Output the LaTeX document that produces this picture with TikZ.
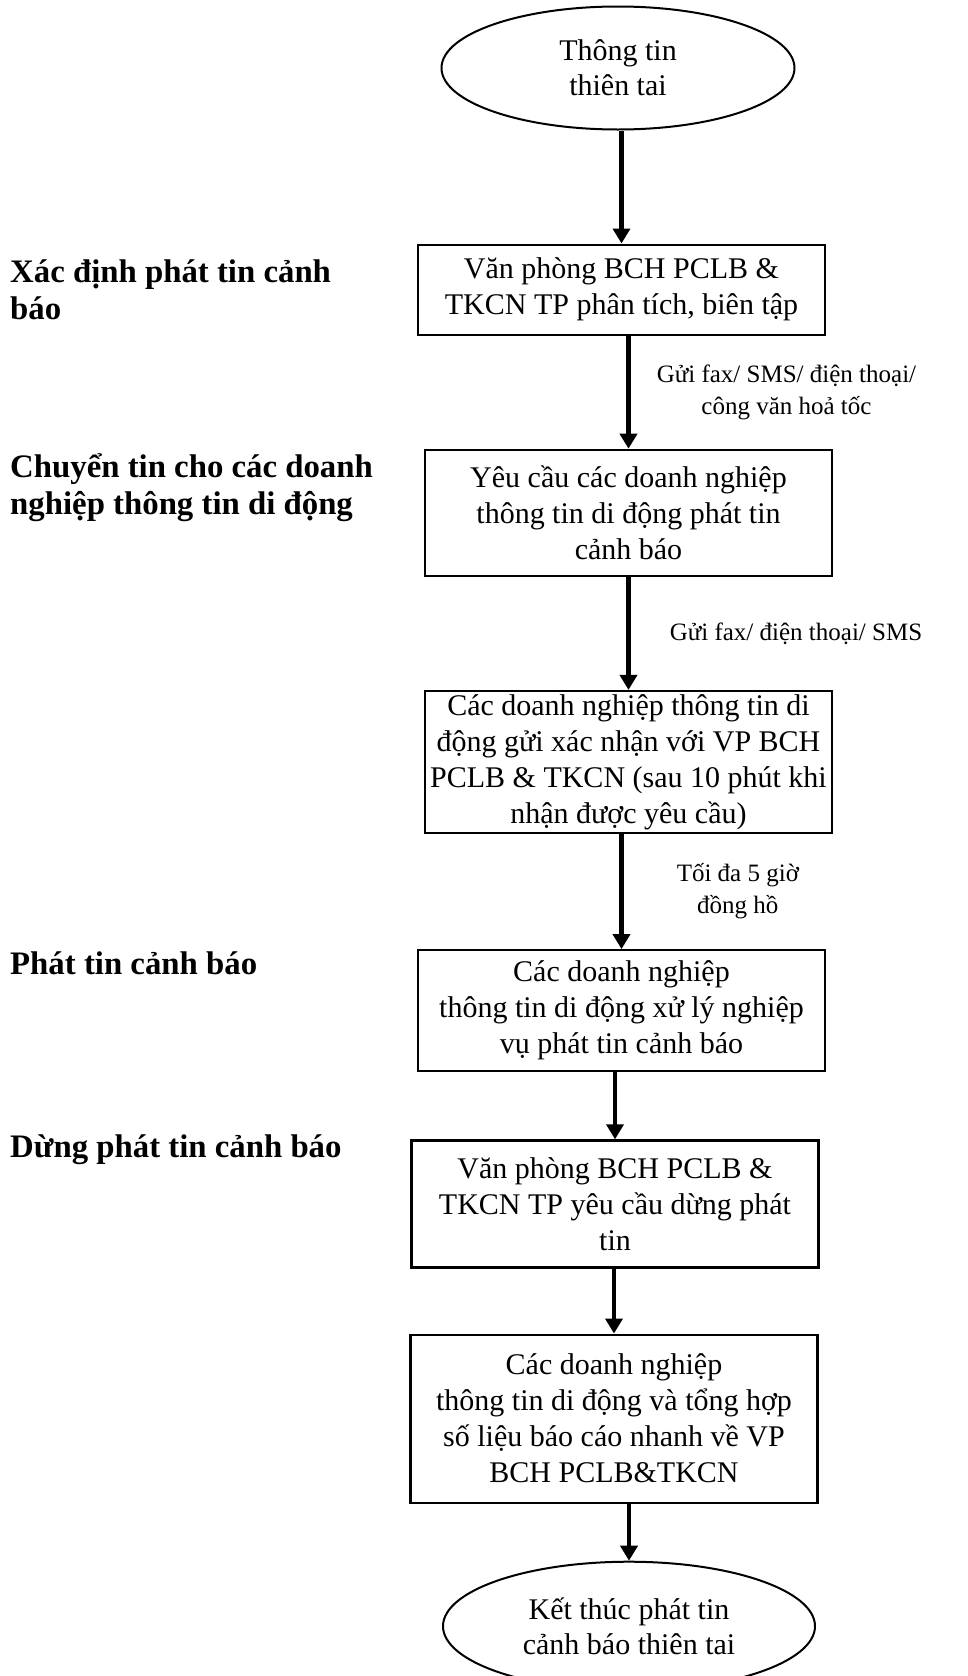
\documentclass[tikz,border=0pt]{standalone}
\usepackage{fontspec}
\setmainfont{Liberation Serif}
\usetikzlibrary{positioning}
\usetikzlibrary{shapes}
\usetikzlibrary{arrows.meta}

\begin{document}
\begin{tikzpicture}[x=1pt,y=1pt,
  box/.style={draw, line width=2.2pt, minimum width=407pt, inner sep=2pt, align=center, font=\fontsize{30}{36}\selectfont},
  term/.style={draw, ellipse, line width=2pt, inner sep=0pt, align=center, font=\fontsize{30}{35}\selectfont},
  phase/.style={anchor=west, inner sep=0pt, align=left, font=\bfseries\fontsize{32.8}{37}\selectfont},
  note/.style={inner sep=0pt, align=center, font=\fontsize{25}{32}\selectfont},
  arr/.style={-{Triangle[length=15pt,width=17pt]}, line width=4.5pt}]

\useasboundingbox (0,0) rectangle (967,-1676);

\node[term, minimum width=353pt, minimum height=123pt] (S_0) at (618,-68) {Thông tin\\thiên tai};

\node[box, minimum height=90pt, below=113pt of S_0, xshift=3.5pt] (B_1) {Văn phòng BCH PCLB \&\\TKCN TP phân tích, biên tập};
\node[box, minimum height=126pt, below=113pt of B_1, xshift=7pt] (B_2) {Yêu cầu các doanh nghiệp\\thông tin di động phát tin\\cảnh báo};
\node[box, minimum height=142pt, below=113pt of B_2] (B_3) {Các doanh nghiệp thông tin di\\động gửi xác nhận với VP BCH\\PCLB \& TKCN (sau 10 phút khi\\nhận được yêu cầu)};
\node[box, minimum height=121pt, below=115pt of B_3, xshift=-7pt] (B_4) {Các doanh nghiệp\\thông tin di động xử lý nghiệp\\vụ phát tin cảnh báo};
\node[box, minimum height=127pt, below=67pt of B_4, xshift=-6.5pt] (B_5) {Văn phòng BCH PCLB \&\\TKCN TP yêu cầu dừng phát\\tin};
\node[box, minimum height=168pt, below=65pt of B_5, xshift=-1pt] (B_6) {Các doanh nghiệp\\thông tin di động và tổng hợp\\số liệu báo cáo nhanh về VP\\BCH PCLB\&TKCN};

\node[term, minimum width=372pt, minimum height=129pt, below=57pt of B_6, xshift=15pt] (E_0) {Kết thúc phát tin\\cảnh báo thiên tai};

\node[phase] (P_1) at (10,-290) {Xác định phát tin cảnh\\báo};
\node[phase] (P_2) at (10,-488) {Chuyển tin cho các doanh\\nghiệp thông tin di động};
\node[phase] (P_3) at (10,-963) {Phát tin cảnh báo};
\node[phase] (P_4) at (10,-1150) {Dừng phát tin cảnh báo};

\draw[arr] (S_0.south -| B_1) -- (B_1);
\draw[arr] (B_1.south -| B_2) -- (B_2) node[note, midway, anchor=west, xshift=26pt] (N_1) {Gửi fax/ SMS/ điện thoại/\\công văn hoả tốc};
\draw[arr] (B_2.south -| B_3) -- (B_3) node[note, midway, anchor=west, xshift=39pt] (N_2) {Gửi fax/ điện thoại/ SMS};
\draw[arr] (B_3.south -| B_4) -- (B_4) node[note, midway, anchor=west, xshift=53pt] (N_3) {Tối đa 5 giờ\\đồng hồ};
\draw[arr] (B_4.south -| B_5) -- (B_5);
\draw[arr] (B_5.south -| B_6) -- (B_6);
\draw[arr] (B_6.south -| E_0) -- (E_0);

\end{tikzpicture}
\end{document}
